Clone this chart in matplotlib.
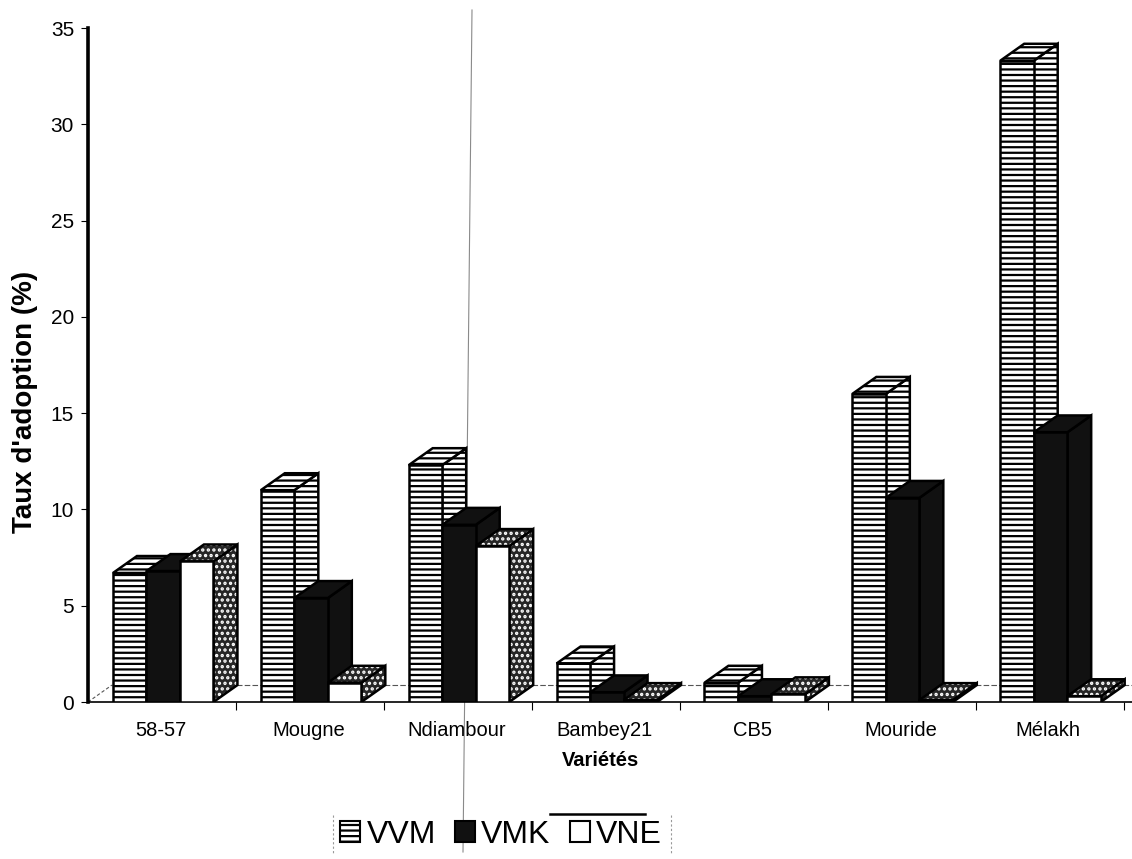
import matplotlib
matplotlib.use("Agg")
import matplotlib.pyplot as plt
from matplotlib.patches import Polygon, Patch
from matplotlib.lines import Line2D
import numpy as np

plt.rcParams['font.family'] = ['Liberation Sans', 'DejaVu Sans']
plt.rcParams['hatch.linewidth'] = 1.6

# Taux d'adoption (%) par variété
varietes = ['58-57', 'Mougne', 'Ndiambour', 'Bambey21', 'CB5', 'Mouride', 'Mélakh']
vvm = [6.7, 11.0, 12.3, 2.0, 1.0, 16.0, 33.3]
vmk = [6.8, 5.4, 9.2, 0.5, 0.3, 10.6, 14.0]
vne = [7.3, 1.0, 8.1, 0.1, 0.4, 0.1, 0.3]
series = ['VVM', 'VMK', 'VNE']
yticks = [0, 5, 10, 15, 20, 25, 30, 35]

# pseudo-3D box geometry (data units)
W = 0.2265     # bar width
OFF = -0.325   # left edge of first bar relative to category
DX, DY = 0.162, 0.88   # depth offset
XMIN, XMAX = -0.494, 6.566

# face styles per series: front, side, top -> (facecolor, hatch, hatchcolor)
styles = {
    'VVM': [('white', '---', 'black')] * 3,
    'VMK': [('#111111', None, None)] * 3,
    'VNE': [('white', None, None), ('#262626', '...', 'white'), ('#262626', '...', 'white')],
}


def face(ax, verts, fc, hatch, hc):
    ax.add_patch(Polygon(verts, closed=True, facecolor=fc,
                         edgecolor=hc if hatch else 'none', hatch=hatch,
                         lw=0, zorder=3))
    ax.add_patch(Polygon(verts, closed=True, facecolor='none', edgecolor='black',
                         lw=1.8, joinstyle='miter', zorder=3))


fig = plt.figure(figsize=(11.32, 8.59), dpi=100)
ax = fig.add_axes([88 / 1132, 157 / 859, 1044 / 1132, 674 / 859])
ax.patch.set_alpha(0)
ax.set_xlim(XMIN, XMAX)
ax.set_ylim(0, 35)

# floor edges
ax.plot([XMIN + DX, XMAX], [DY, DY], color='#555555', lw=0.8, ls=(0, (5, 2)), zorder=1)
ax.plot([XMIN, XMIN + DX], [0, DY], color='#555555', lw=0.8, ls=(0, (3, 2)), zorder=1,
        clip_on=False)

data = [vvm, vmk, vne]
for i in range(len(varietes)):
    for j, name in enumerate(series):
        h = data[j][i]
        x0 = i + OFF + j * W
        x1 = x0 + W
        front = [(x0, 0), (x1, 0), (x1, h), (x0, h)]
        side = [(x1, 0), (x1 + DX, DY), (x1 + DX, h + DY), (x1, h)]
        top = [(x0, h), (x1, h), (x1 + DX, h + DY), (x0 + DX, h + DY)]
        st = styles[name]
        face(ax, side, *st[1])
        face(ax, top, *st[2])
        face(ax, front, *st[0])

for s in ['top', 'right']:
    ax.spines[s].set_visible(False)
ax.spines['left'].set_linewidth(2.6)
ax.spines['bottom'].set_linewidth(1.2)

ax.set_yticks(yticks)
ax.tick_params(axis='y', direction='out', length=5, width=0.8, labelsize=15, pad=5)
ax.set_xticks(range(len(varietes)))
ax.set_xticklabels(varietes)
ax.tick_params(axis='x', which='major', length=0, labelsize=14.5, pad=14)
ax.set_xticks(np.arange(len(varietes)) + 0.51, minor=True)
ax.tick_params(axis='x', which='minor', direction='out', length=6, width=0.8)

fig.text(600 / 1132, 1 - 760 / 859, 'Variétés', ha='center', va='center',
         fontsize=14.5, fontweight='bold')
fig.text(25 / 1132, 1 - 402 / 859, "Taux d'adoption (%)", ha='center', va='center',
         rotation=90, fontsize=20, fontweight='bold')

handles = [Patch(facecolor='white', edgecolor='black', hatch='---', lw=1.5),
           Patch(facecolor='#111111', edgecolor='black', lw=1.5),
           Patch(facecolor='white', edgecolor='black', lw=1.5)]
fig.legend(handles, series, loc='center', bbox_to_anchor=(501 / 1132, 1 - 835 / 859),
           ncol=3, frameon=False, fontsize=23, handlelength=0.62, handleheight=0.62,
           handletextpad=0.2, columnspacing=0.6)

# legend box remnants and fold line
for xp in (333, 671):
    fig.add_artist(Line2D([xp / 1132] * 2, [1 - 815 / 859, 1 - 855 / 859],
                          color='#999999', lw=0.8, ls=(0, (2, 2))))
fig.add_artist(Line2D([550 / 1132, 645 / 1132], [1 - 814 / 859] * 2, color='black', lw=1.8))
fig.add_artist(Line2D([472 / 1132, 463 / 1132], [1 - 10 / 859, 1 - 852 / 859],
                      color='#8a8a8a', lw=0.8, zorder=-1))

fig.savefig('out.png', dpi=100)
